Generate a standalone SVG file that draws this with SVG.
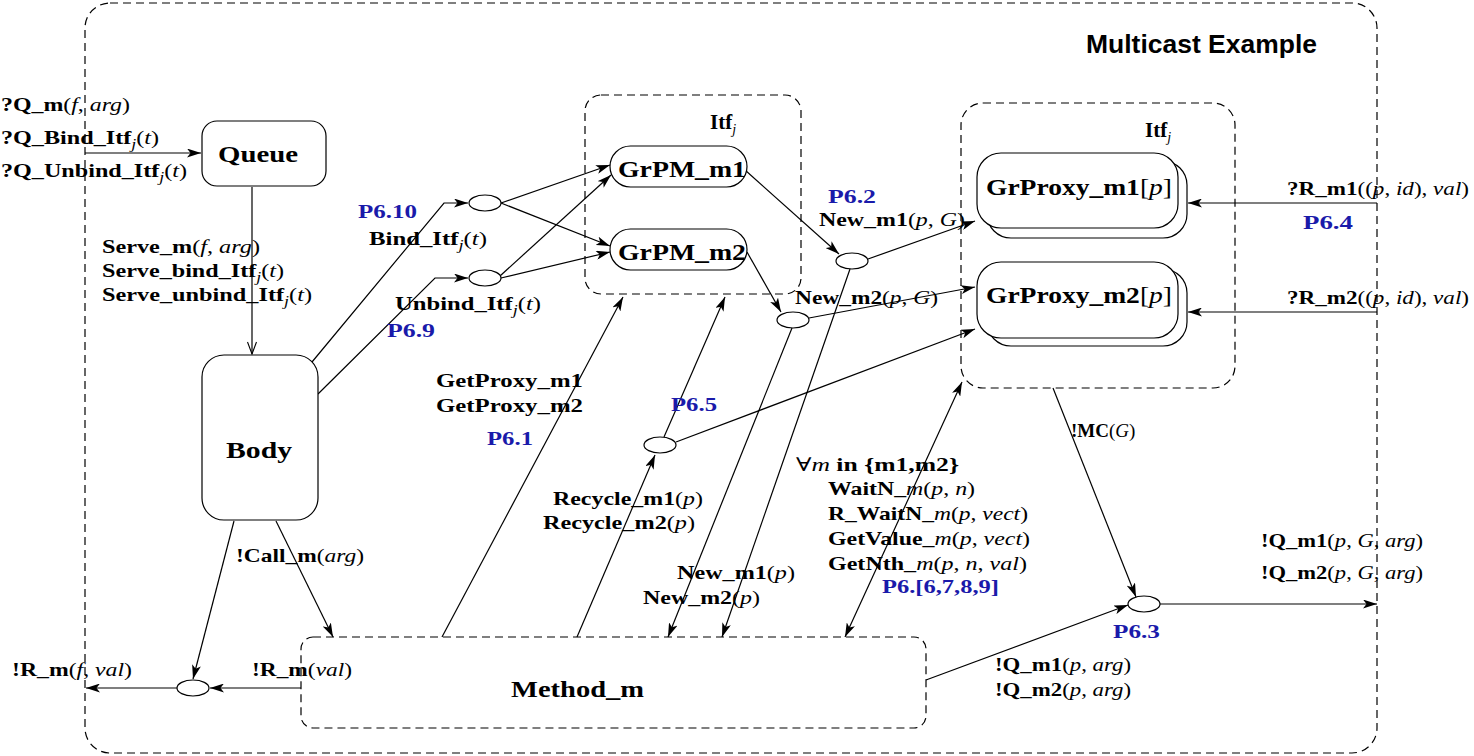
<svg xmlns="http://www.w3.org/2000/svg" width="1474" height="756" viewBox="0 0 1474 756">
<style>
.t{font-family:"Liberation Serif","DejaVu Serif",serif;font-weight:bold;font-size:19px;fill:#000}
.big{font-size:24px}
.itf{font-size:21px}
.n{font-weight:normal;font-style:normal}
.i{font-weight:normal;font-style:italic}
.s{font-size:14px}
.p{fill:#1a1aaa}
.title{font-family:"Liberation Sans",Arial,sans-serif;font-weight:bold;font-size:25px;fill:#000}
.box{fill:#fff;stroke:#000;stroke-width:1.2}
.dash{fill:none;stroke:#000;stroke-width:1.2;stroke-dasharray:8 5}
.el{fill:#fff;stroke:#000;stroke-width:1.2}
.c{fill:none;stroke:#000;stroke-width:1.2;marker-end:url(#ah)}
</style>
<defs>
<marker id="ah" viewBox="0 0 14 9" refX="14" refY="4.5" markerWidth="14" markerHeight="9" markerUnits="userSpaceOnUse" orient="auto-start-reverse"><path d="M0,0 L14,4.5 L0,9 L3.5,4.5 z" fill="#000"/></marker>
<marker id="av" viewBox="0 0 14 10" refX="13" refY="5" markerWidth="14" markerHeight="10" markerUnits="userSpaceOnUse" orient="auto"><path d="M1,0.5 L13,5 L1,9.5" fill="none" stroke="#000" stroke-width="1.1"/></marker>
</defs>
<rect width="1474" height="756" fill="#fff"/>
<g id="frame">
<rect class="dash" x="85" y="3" width="1292" height="750" rx="25"/>
<text class="title" x="1086" y="53" textLength="231" lengthAdjust="spacingAndGlyphs">Multicast Example</text>
</g>
<g id="itf-left"><rect class="dash" x="585" y="95" width="216" height="199" rx="16"/>
<text class="t itf" x="710" y="129">Itf<tspan class="i s" dy="5">j</tspan></text></g>
<g id="itf-right"><rect class="dash" x="961" y="103" width="274" height="285" rx="22"/>
<text class="t itf" x="1145" y="137">Itf<tspan class="i s" dy="5">j</tspan></text></g>
<g id="method"><rect class="dash" x="301" y="637" width="625" height="91" rx="12"/>
<text class="t big" x="511" y="697" textLength="133" lengthAdjust="spacingAndGlyphs">Method_m</text></g>
<g id="connectors">
<path class="c" d="M85,153 L201,153"/>
<path d="M252,187 L252,354" fill="none" stroke="#000" stroke-width="1.2" marker-end="url(#av)"/>
<path class="c" d="M312,362 L444,203 L468,203"/>
<path class="c" d="M318,394 L435,278 L468,278"/>
<path class="c" d="M501,203 L610,165"/>
<path class="c" d="M501,203 L610,246"/>
<path class="c" d="M500,276 L611,175"/>
<path class="c" d="M501,278 L610,252"/>
<path class="c" d="M745,170 L839,254"/>
<path class="c" d="M747,252 L781,312"/>
<path class="c" d="M868,259 L975,221"/>
<path class="c" d="M809,318 L975,287"/>
<path class="c" d="M676,442 L975,329"/>
<path class="c" d="M1377,203 L1188,203"/>
<path class="c" d="M1377,312 L1188,312"/>
<path class="c" d="M442,637 L623,297"/>
<path class="c" d="M577,637 L655,455"/>
<path class="c" d="M664,437 L725,297"/>
<path class="c" d="M792,328 L668,637"/>
<path class="c" d="M850,269 L722,637"/>
<path class="c" d="M845,637 L962,382" marker-start="url(#ah)"/>
<path class="c" d="M1053,388 L1136,597"/>
<path class="c" d="M926,680 L1128,605"/>
<path class="c" d="M1160,604 L1377,604"/>
<path class="c" d="M234,521 L193,679"/>
<path class="c" d="M276,521 L333,637"/>
<path class="c" d="M301,688 L210,688"/>
<path class="c" d="M177,688 L86,688"/>
</g>
<g id="queue"><rect class="box" x="202" y="121" width="124" height="65" rx="15"/>
<text class="t big" x="218" y="162" textLength="80" lengthAdjust="spacingAndGlyphs">Queue</text></g>
<g id="body"><rect class="box" x="202" y="355" width="116" height="165" rx="22"/>
<text class="t big" x="226" y="458" textLength="66" lengthAdjust="spacingAndGlyphs">Body</text></g>
<g id="grpm1"><rect class="box" x="610" y="146" width="137" height="41" rx="20.5"/>
<text class="t big" x="618" y="177" textLength="128" lengthAdjust="spacingAndGlyphs">GrPM_m1</text></g>
<g id="grpm2"><rect class="box" x="610" y="229" width="137" height="41" rx="20.5"/>
<text class="t big" x="618" y="260" textLength="128" lengthAdjust="spacingAndGlyphs">GrPM_m2</text></g>
<g id="grproxy1"><rect class="box" x="987" y="161" width="200" height="77" rx="24"/><rect class="box" x="977" y="153" width="201" height="75" rx="24"/>
<text class="t big" x="986" y="195" textLength="186" lengthAdjust="spacingAndGlyphs">GrProxy_m1<tspan class="n">[</tspan><tspan class="i">p</tspan><tspan class="n">]</tspan></text></g>
<g id="grproxy2"><rect class="box" x="987" y="269" width="200" height="77" rx="24"/><rect class="box" x="977" y="262" width="201" height="76" rx="24"/>
<text class="t big" x="986" y="303" textLength="186" lengthAdjust="spacingAndGlyphs">GrProxy_m2<tspan class="n">[</tspan><tspan class="i">p</tspan><tspan class="n">]</tspan></text></g>
<g id="e1"><ellipse class="el" cx="485" cy="203" rx="16" ry="8"/></g>
<g id="e2"><ellipse class="el" cx="485" cy="278" rx="16" ry="8"/></g>
<g id="e3"><ellipse class="el" cx="852" cy="261" rx="16" ry="8"/></g>
<g id="e4"><ellipse class="el" cx="793" cy="320" rx="16" ry="8"/></g>
<g id="e5"><ellipse class="el" cx="660" cy="445" rx="16" ry="8"/></g>
<g id="e6"><ellipse class="el" cx="1144" cy="604" rx="16" ry="8"/></g>
<g id="e7"><ellipse class="el" cx="193" cy="688" rx="16" ry="8"/></g>
<g id="labels">
<text class="t" x="1" y="111" textLength="129" lengthAdjust="spacingAndGlyphs">?Q_m<tspan class="n">(</tspan><tspan class="i">f</tspan><tspan class="n">, </tspan><tspan class="i">arg</tspan><tspan class="n">)</tspan></text>
<text class="t" x="1" y="144" textLength="158" lengthAdjust="spacingAndGlyphs">?Q_Bind_Itf<tspan class="i s" dy="5">j</tspan><tspan class="n" dy="-5">(</tspan><tspan class="i">t</tspan><tspan class="n">)</tspan></text>
<text class="t" x="1" y="177" textLength="186" lengthAdjust="spacingAndGlyphs">?Q_Unbind_Itf<tspan class="i s" dy="5">j</tspan><tspan class="n" dy="-5">(</tspan><tspan class="i">t</tspan><tspan class="n">)</tspan></text>
<text class="t" x="102" y="253" textLength="158" lengthAdjust="spacingAndGlyphs">Serve_m<tspan class="n">(</tspan><tspan class="i">f</tspan><tspan class="n">, </tspan><tspan class="i">arg</tspan><tspan class="n">)</tspan></text>
<text class="t" x="102" y="277" textLength="182" lengthAdjust="spacingAndGlyphs">Serve_bind_Itf<tspan class="i s" dy="5">j</tspan><tspan class="n" dy="-5">(</tspan><tspan class="i">t</tspan><tspan class="n">)</tspan></text>
<text class="t" x="102" y="301" textLength="210" lengthAdjust="spacingAndGlyphs">Serve_unbind_Itf<tspan class="i s" dy="5">j</tspan><tspan class="n" dy="-5">(</tspan><tspan class="i">t</tspan><tspan class="n">)</tspan></text>
<text class="t p" x="358" y="218" textLength="59" lengthAdjust="spacingAndGlyphs">P6.10</text>
<text class="t" x="369" y="245" textLength="118" lengthAdjust="spacingAndGlyphs">Bind_Itf<tspan class="i s" dy="5">j</tspan><tspan class="n" dy="-5">(</tspan><tspan class="i">t</tspan><tspan class="n">)</tspan></text>
<text class="t" x="395" y="310" textLength="146" lengthAdjust="spacingAndGlyphs">Unbind_Itf<tspan class="i s" dy="5">j</tspan><tspan class="n" dy="-5">(</tspan><tspan class="i">t</tspan><tspan class="n">)</tspan></text>
<text class="t p" x="387" y="337" textLength="48" lengthAdjust="spacingAndGlyphs">P6.9</text>
<text class="t p" x="828" y="203" textLength="48" lengthAdjust="spacingAndGlyphs">P6.2</text>
<text class="t" x="819" y="226" textLength="146" lengthAdjust="spacingAndGlyphs">New_m1<tspan class="n">(</tspan><tspan class="i">p</tspan><tspan class="n">, </tspan><tspan class="i">G</tspan><tspan class="n">)</tspan></text>
<text class="t" x="795" y="304" textLength="143" lengthAdjust="spacingAndGlyphs">New_m2<tspan class="n">(</tspan><tspan class="i">p</tspan><tspan class="n">, </tspan><tspan class="i">G</tspan><tspan class="n">)</tspan></text>
<text class="t" x="1287" y="195" textLength="182" lengthAdjust="spacingAndGlyphs">?R_m1<tspan class="n">((</tspan><tspan class="i">p</tspan><tspan class="n">, </tspan><tspan class="i">id</tspan><tspan class="n">), </tspan><tspan class="i">val</tspan><tspan class="n">)</tspan></text>
<text class="t p" x="1303" y="229" textLength="50" lengthAdjust="spacingAndGlyphs">P6.4</text>
<text class="t" x="1287" y="304" textLength="182" lengthAdjust="spacingAndGlyphs">?R_m2<tspan class="n">((</tspan><tspan class="i">p</tspan><tspan class="n">, </tspan><tspan class="i">id</tspan><tspan class="n">), </tspan><tspan class="i">val</tspan><tspan class="n">)</tspan></text>
<text class="t" x="436" y="387" textLength="147" lengthAdjust="spacingAndGlyphs">GetProxy_m1</text>
<text class="t" x="436" y="412" textLength="147" lengthAdjust="spacingAndGlyphs">GetProxy_m2</text>
<text class="t p" x="487" y="445" textLength="46" lengthAdjust="spacingAndGlyphs">P6.1</text>
<text class="t p" x="671" y="411" textLength="46" lengthAdjust="spacingAndGlyphs">P6.5</text>
<text class="t" x="553" y="505" textLength="150" lengthAdjust="spacingAndGlyphs">Recycle_m1<tspan class="n">(</tspan><tspan class="i">p</tspan><tspan class="n">)</tspan></text>
<text class="t" x="543" y="529" textLength="152" lengthAdjust="spacingAndGlyphs">Recycle_m2<tspan class="n">(</tspan><tspan class="i">p</tspan><tspan class="n">)</tspan></text>
<text class="t" x="1071" y="437" font-size="17">!MC<tspan class="n">(</tspan><tspan class="i">G</tspan><tspan class="n">)</tspan></text>
<text class="t" x="796" y="471" textLength="163" lengthAdjust="spacingAndGlyphs"><tspan class="n">∀</tspan><tspan class="i">m</tspan> in {m1,m2}</text>
<text class="t" x="828" y="495" textLength="147" lengthAdjust="spacingAndGlyphs">WaitN_<tspan class="i">m</tspan><tspan class="n">(</tspan><tspan class="i">p</tspan><tspan class="n">, </tspan><tspan class="i">n</tspan><tspan class="n">)</tspan></text>
<text class="t" x="828" y="520" textLength="200" lengthAdjust="spacingAndGlyphs">R_WaitN_<tspan class="i">m</tspan><tspan class="n">(</tspan><tspan class="i">p</tspan><tspan class="n">, </tspan><tspan class="i">vect</tspan><tspan class="n">)</tspan></text>
<text class="t" x="828" y="545" textLength="202" lengthAdjust="spacingAndGlyphs">GetValue_<tspan class="i">m</tspan><tspan class="n">(</tspan><tspan class="i">p</tspan><tspan class="n">, </tspan><tspan class="i">vect</tspan><tspan class="n">)</tspan></text>
<text class="t" x="828" y="570" textLength="199" lengthAdjust="spacingAndGlyphs">GetNth_<tspan class="i">m</tspan><tspan class="n">(</tspan><tspan class="i">p</tspan><tspan class="n">, </tspan><tspan class="i">n</tspan><tspan class="n">, </tspan><tspan class="i">val</tspan><tspan class="n">)</tspan></text>
<text class="t p" x="882" y="593" textLength="117" lengthAdjust="spacingAndGlyphs">P6.[6,7,8,9]</text>
<text class="t" x="236" y="562" textLength="128" lengthAdjust="spacingAndGlyphs">!Call_m<tspan class="n">(</tspan><tspan class="i">arg</tspan><tspan class="n">)</tspan></text>
<text class="t" x="677" y="579" textLength="118" lengthAdjust="spacingAndGlyphs">New_m1<tspan class="n">(</tspan><tspan class="i">p</tspan><tspan class="n">)</tspan></text>
<text class="t" x="643" y="604" textLength="117" lengthAdjust="spacingAndGlyphs">New_m2<tspan class="n">(</tspan><tspan class="i">p</tspan><tspan class="n">)</tspan></text>
<text class="t" x="1261" y="547" textLength="162" lengthAdjust="spacingAndGlyphs">!Q_m1<tspan class="n">(</tspan><tspan class="i">p</tspan><tspan class="n">, </tspan><tspan class="i">G</tspan><tspan class="n">, </tspan><tspan class="i">arg</tspan><tspan class="n">)</tspan></text>
<text class="t" x="1261" y="579" textLength="162" lengthAdjust="spacingAndGlyphs">!Q_m2<tspan class="n">(</tspan><tspan class="i">p</tspan><tspan class="n">, </tspan><tspan class="i">G</tspan><tspan class="n">, </tspan><tspan class="i">arg</tspan><tspan class="n">)</tspan></text>
<text class="t p" x="1113" y="638" textLength="47" lengthAdjust="spacingAndGlyphs">P6.3</text>
<text class="t" x="12" y="676" textLength="120" lengthAdjust="spacingAndGlyphs">!R_m<tspan class="n">(</tspan><tspan class="i">f</tspan><tspan class="n">, </tspan><tspan class="i">val</tspan><tspan class="n">)</tspan></text>
<text class="t" x="252" y="676" textLength="100" lengthAdjust="spacingAndGlyphs">!R_m<tspan class="n">(</tspan><tspan class="i">val</tspan><tspan class="n">)</tspan></text>
<text class="t" x="995" y="671" textLength="136" lengthAdjust="spacingAndGlyphs">!Q_m1<tspan class="n">(</tspan><tspan class="i">p</tspan><tspan class="n">, </tspan><tspan class="i">arg</tspan><tspan class="n">)</tspan></text>
<text class="t" x="995" y="696" textLength="136" lengthAdjust="spacingAndGlyphs">!Q_m2<tspan class="n">(</tspan><tspan class="i">p</tspan><tspan class="n">, </tspan><tspan class="i">arg</tspan><tspan class="n">)</tspan></text>
</g>
</svg>
